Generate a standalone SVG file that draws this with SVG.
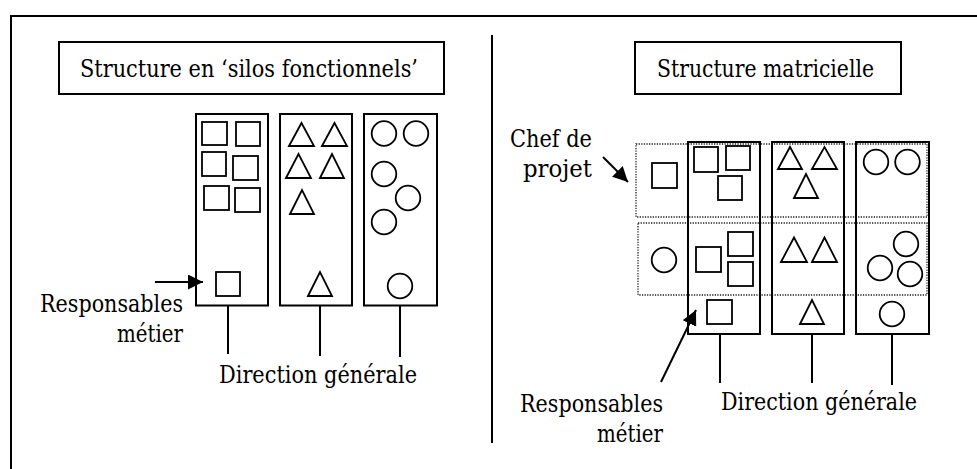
<svg xmlns="http://www.w3.org/2000/svg" width="977" height="469" viewBox="0 0 977 469">
<style>
.t{font-family:"DejaVu Serif",serif;font-size:24.5px;fill:#000}
.frame{fill:none;stroke:#000;stroke-width:2}
.col{fill:none;stroke:#000;stroke-width:2}
.sh{fill:none;stroke:#000;stroke-width:1.8}
.dot{fill:none;stroke:#222;stroke-width:1.3;stroke-dasharray:1.3 1.3}
.ln{fill:none;stroke:#000;stroke-width:2}
</style>
<defs>
<marker id="ah" markerUnits="userSpaceOnUse" markerWidth="16" markerHeight="15" refX="15" refY="7.5" orient="auto">
<path d="M0,0 L15,7.5 L0,15 z" fill="#000"/>
</marker>
</defs>
<rect width="977" height="469" fill="#fff"/>
<rect class="frame" x="11" y="16" width="1000" height="500"/>
<line class="ln" x1="492" y1="35" x2="492" y2="443"/>
<g id="left-title">
<rect class="frame" x="59" y="42" width="385" height="52"/>
<text class="t" x="80" y="77" textLength="338" lengthAdjust="spacingAndGlyphs">Structure en ‘silos fonctionnels’</text>
</g>
<g id="left-col1">
<rect class="col" x="196" y="114" width="72" height="191.5"/>
<rect class="sh" x="202" y="122" width="25" height="23"/>
<rect class="sh" x="236" y="122" width="24" height="24"/>
<rect class="sh" x="202" y="152" width="24" height="24"/>
<rect class="sh" x="233" y="156" width="25" height="24"/>
<rect class="sh" x="204" y="186" width="25" height="24"/>
<rect class="sh" x="235" y="188" width="25" height="24"/>
<rect class="sh" x="216" y="272" width="24" height="24"/>
</g>
<g id="left-col2">
<rect class="col" x="280" y="114" width="72" height="191.5"/>
<polygon class="sh" points="289,146 301.5,123 314,146"/>
<polygon class="sh" points="322,146 334.5,123 347,146"/>
<polygon class="sh" points="286,178 298.5,154 311,178"/>
<polygon class="sh" points="320,178 332,154 344,178"/>
<polygon class="sh" points="290,214 302,190 314,214"/>
<polygon class="sh" points="308,296 320,272 332,296"/>
</g>
<g id="left-col3">
<rect class="col" x="364" y="114" width="73" height="191.5"/>
<circle class="sh" cx="384" cy="133.5" r="12.3"/>
<circle class="sh" cx="416" cy="133.5" r="12.3"/>
<circle class="sh" cx="384" cy="174" r="12.3"/>
<circle class="sh" cx="408" cy="198" r="12.3"/>
<circle class="sh" cx="384" cy="222" r="12.3"/>
<circle class="sh" cx="400" cy="286" r="12.3"/>
</g>
<g id="left-resp">
<text class="t" x="40" y="312" textLength="143" lengthAdjust="spacingAndGlyphs">Responsables</text>
<text class="t" x="117" y="342" textLength="66" lengthAdjust="spacingAndGlyphs">métier</text>
</g>
<g id="left-dir">
<text class="t" x="219" y="383" textLength="198" lengthAdjust="spacingAndGlyphs">Direction générale</text>
</g>

<g id="right-title">
<rect class="frame" x="635" y="42" width="266" height="52"/>
<text class="t" x="657" y="77" textLength="217" lengthAdjust="spacingAndGlyphs">Structure matricielle</text>
</g>
<g id="right-rows">
<rect class="dot" x="636" y="144" width="291" height="73"/>
<rect class="dot" x="638" y="223" width="289" height="72"/>
</g>
<g id="chef">
<text class="t" x="510" y="147" textLength="82" lengthAdjust="spacingAndGlyphs">Chef de</text>
<text class="t" x="523" y="176.5" textLength="69" lengthAdjust="spacingAndGlyphs">projet</text>
<rect class="sh" x="652" y="163" width="25" height="25"/>
<circle class="sh" cx="664" cy="260" r="12.3"/>
</g>
<g id="right-col1">
<rect class="col" x="688" y="142" width="72" height="192"/>
<rect class="sh" x="694" y="147" width="24" height="25"/>
<rect class="sh" x="726" y="146" width="24" height="24"/>
<rect class="sh" x="718" y="176" width="24" height="24"/>
<rect class="sh" x="696" y="247" width="25" height="25"/>
<rect class="sh" x="728" y="232" width="25" height="24"/>
<rect class="sh" x="728" y="262" width="25" height="24"/>
<rect class="sh" x="707" y="300" width="25" height="24"/>
</g>
<g id="right-col2">
<rect class="col" x="772" y="142" width="72" height="192"/>
<polygon class="sh" points="778,169 790,147 802,169"/>
<polygon class="sh" points="812,169 824.5,147 837,169"/>
<polygon class="sh" points="794,198 806,174 818,198"/>
<polygon class="sh" points="781,262 794,237.5 807,262"/>
<polygon class="sh" points="812,262 824.5,237.5 837,262"/>
<polygon class="sh" points="800,324 812,300 824,324"/>
</g>
<g id="right-col3">
<rect class="col" x="856" y="142" width="73" height="192"/>
<circle class="sh" cx="876" cy="162" r="12.3"/>
<circle class="sh" cx="907.5" cy="162" r="12.3"/>
<circle class="sh" cx="906" cy="244" r="12.3"/>
<circle class="sh" cx="880" cy="268" r="12.3"/>
<circle class="sh" cx="910" cy="274" r="12.3"/>
<circle class="sh" cx="892" cy="314" r="12.3"/>
</g>
<g id="right-resp">
<text class="t" x="520" y="412" textLength="143" lengthAdjust="spacingAndGlyphs">Responsables</text>
<text class="t" x="597" y="442" textLength="66" lengthAdjust="spacingAndGlyphs">métier</text>
</g>
<g id="right-dir">
<text class="t" x="721" y="410" textLength="196" lengthAdjust="spacingAndGlyphs">Direction générale</text>
</g>
<g id="connectors">
<line class="ln" x1="155" y1="282" x2="203" y2="282" marker-end="url(#ah)"/>
<line class="ln" x1="228" y1="305" x2="228" y2="354"/>
<line class="ln" x1="320" y1="305" x2="320" y2="356"/>
<line class="ln" x1="400" y1="305" x2="400" y2="357"/>
<line class="ln" x1="603" y1="157" x2="628" y2="182" marker-end="url(#ah)"/>
<line class="ln" x1="661" y1="382" x2="696" y2="310" marker-end="url(#ah)"/>
<line class="ln" x1="720" y1="334" x2="720" y2="383"/>
<line class="ln" x1="812" y1="334" x2="812" y2="383"/>
<line class="ln" x1="892" y1="334" x2="892" y2="385"/>
</g>
</svg>
